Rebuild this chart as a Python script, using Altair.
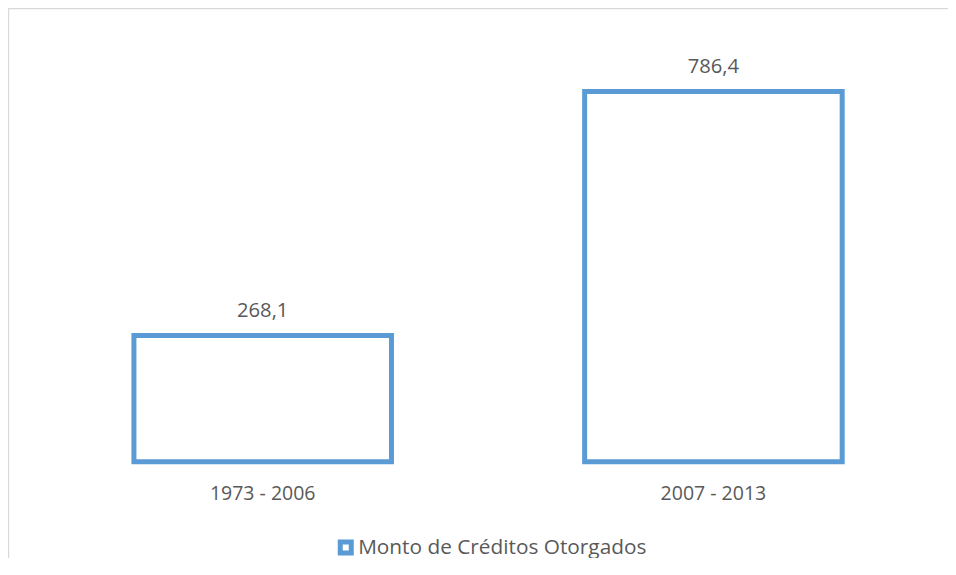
import altair as alt
import pandas as pd

periodos = ["1973 - 2006", "2007 - 2013"]
montos = [268.1, 786.4]
etiquetas = ["268,1", "786,4"]
serie = ["Monto de Créditos Otorgados", "Monto de Créditos Otorgados"]

df = pd.DataFrame({"periodo": periodos, "monto": montos, "etiqueta": etiquetas, "serie": serie})

BLUE = "#5B9BD5"
GREY = "#595959"
FONT = "Open Sans"
FS = 19.5

W, H = 901.4, 423.6
PL, PT = 29.35, 30.1
PR = 940 - W - PL
TOTAL_H = 550
PB = TOTAL_H - H - PT

xenc = alt.X("periodo:N", sort=periodos, title=None,
             scale=alt.Scale(paddingInner=0.4286, paddingOuter=0.2143),
             axis=alt.Axis(labelAngle=0, ticks=False, domain=False, grid=False,
                           labelFont=FONT, labelFontSize=FS, labelColor=GREY,
                           labelBaseline="alphabetic", labelPadding=37.3))
yscale = alt.Scale(domain=[0, 900])

base = alt.Chart(df)

bars = base.mark_bar(fill="white", strokeWidth=5).encode(
    x=xenc,
    y=alt.Y("monto:Q", scale=yscale, axis=None),
    stroke=alt.Stroke("serie:N", scale=alt.Scale(range=[BLUE]),
                      legend=alt.Legend(title=None, orient="none", legendX=298, legendY=499,
                                        symbolType="square", symbolSize=121, symbolStrokeWidth=5,
                                        symbolFillColor="white", symbolStrokeColor=BLUE,
                                        labelFont=FONT, labelFontSize=20.8, labelColor=GREY,
                                        labelOffset=2, labelLimit=0)),
)

text = base.mark_text(font=FONT, fontSize=20.2, color=GREY, baseline="alphabetic", dy=-18.5).encode(
    x=alt.X("periodo:N", sort=periodos),
    y=alt.Y("monto:Q", scale=yscale),
    text="etiqueta:N",
)

frame = pd.DataFrame({"k": [0]})
top_line = alt.Chart(frame).mark_rule(color="#D9D9D9", strokeWidth=2).encode(
    x=alt.value(-PL), x2=alt.value(W + PR), y=alt.value(-29.8))
left_line = alt.Chart(frame).mark_rule(color="#D9D9D9", strokeWidth=2).encode(
    x=alt.value(-29.15), y=alt.value(-PT), y2=alt.value(TOTAL_H - PT))

chart = alt.layer(top_line, left_line, bars, text).properties(
    width=W, height=H,
    background="white",
    autosize=alt.AutoSizeParams(type="none"),
    padding={"left": PL, "top": PT, "right": PR, "bottom": PB},
).configure_view(stroke=None)

chart.save("out.html", embed_options={"renderer": "svg", "actions": False})
